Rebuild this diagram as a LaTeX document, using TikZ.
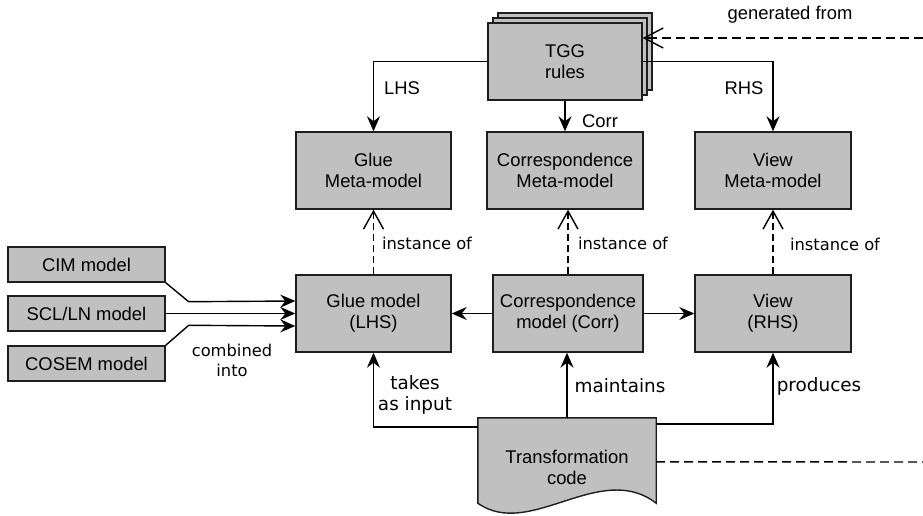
\documentclass[tikz,border=0pt]{standalone}
\usepackage{fontspec}
\setmainfont{Liberation Sans}
\newfontfamily\dv{DejaVu Sans}
\usetikzlibrary{arrows.meta}
\definecolor{boxgray}{RGB}{192,192,192}
\definecolor{edgegray}{RGB}{30,30,30}
\begin{document}
\begin{tikzpicture}[x=1pt,y=-1pt,
  box/.style={draw=edgegray, fill=boxgray, line width=1.4pt, align=center, inner sep=0pt,
    font=\fontsize{18.4}{21}\selectfont},
  bigbox/.style={box, minimum width=155pt, minimum height=77pt},
  smallbox/.style={box, minimum width=157pt, minimum height=35pt},
  lbl/.style={font=\fontsize{18.4}{21}\selectfont, inner sep=0pt},
  dvl/.style={font=\dv\fontsize{16.3}{20}\selectfont, inner sep=0pt, align=center},
  dvb/.style={font=\dv\fontsize{18.4}{21}\selectfont, inner sep=0pt, align=center},
  arr/.style={line width=1.4pt, -{Stealth[length=15pt,width=13pt,inset=5pt]}},
  inst/.style={line width=1.3pt, dash pattern=on 7pt off 4pt, -{Straight Barb[length=18pt,width=20pt,line width=1.4pt]}},
  gen/.style={line width=1.4pt, dash pattern=on 9pt off 5pt}
]
\useasboundingbox (0,0) rectangle (923,516);

% TGG stack
\node[bigbox, minimum width=154pt] (tggc) at (575,51.5) {};
\node[bigbox, minimum width=154pt] (tggb) at (570,56.5) {};
\node[bigbox, minimum width=154pt] (tgg) at (565,61.5) {TGG\\rules};

% meta-models
\node[bigbox] (gluemeta) at (373.5,170.5) {Glue\\Meta-model};
\node[bigbox, minimum width=156pt] (corrmeta) at (565,170.5) {Correspondence\\Meta-model};
\node[bigbox, minimum width=156pt] (viewmeta) at (773,170.5) {View\\Meta-model};

% models
\node[bigbox] (glue) at (373.5,313.5) {Glue model\\(LHS)};
\node[bigbox, minimum width=150pt] (corrm) at (568,313.5) {Correspondence\\model (Corr)};
\node[bigbox, minimum width=156pt] (view) at (773,313.5) {View\\(RHS)};

% input models
\node[smallbox] (cim) at (86.5,264.5) {CIM model};
\node[smallbox] (scl) at (86.5,313.5) {SCL/LN model};
\node[smallbox] (cosem) at (86.5,363.5) {COSEM model};

% transformation code document
\node[minimum width=178pt, minimum height=85pt, inner sep=0pt] (tc) at (567,460.5) {};
\draw[edgegray, fill=boxgray, line width=1.4pt]
  (tc.north west) -- (tc.north east) -- (tc.south east)
  .. controls (600,460) and (530,540) .. (tc.south west) -- cycle;
\node[lbl, align=center] (tct) at (567,467) {Transformation\\code};

% connectors from TGG rules
\draw[arr] (tgg.west) -| (gluemeta.north);
\draw[arr] (tgg.south) -- (corrmeta.north);
\draw[arr] (tgg.east) -| (viewmeta.north);
\node[lbl] (lhs) at (402,88) {LHS};
\node[lbl] (corrl) at (600,121) {Corr};
\node[lbl] (rhs) at (744,88) {RHS};

% generated from
\coordinate (e1) at (923,38);
\draw[gen, -{Straight Barb[length=19pt,width=20pt,line width=1.4pt]}] (e1) -- (tgg.east |- e1);
\node[lbl] (genl) at (790,15) {generated from};

% instance of
\draw[inst] (glue.north) -- (gluemeta.south);
\draw[inst] (corrm.north) -- (corrm.north |- corrmeta.south);
\draw[inst] (view.north) -- (viewmeta.south);
\node[dvl] (i1) at (427,243) {instance of};
\node[dvl] (i2) at (623,243) {instance of};
\node[dvl] (i3) at (835,244) {instance of};

% correspondence to sides
\draw[arr] (corrm.west) -- (glue.east);
\draw[arr] (corrm.east) -- (view.west);

% inputs combined
\draw[arr] (cim.south east) -- ++(23,19) -- (glue.west |- 0,301);
\draw[arr] (scl.east) -- (glue.west |- scl.east);
\draw[arr] (cosem.north east) -- ++(23,-20) -- (glue.west |- 0,326);
\node[dvl] (comb) at (232,360) {combined\\into};

% transformation code connectors
\draw[arr] ([yshift=-9pt]tc.north west) -| (glue.south);
\draw[arr] (tc.north) -- (tc.north |- corrm.south);
\draw[arr] ([yshift=-6pt]tc.north east) -| (view.south);
\node[dvb] (takes) at (415,395) {takes\\as input};
\node[dvb] (maint) at (620,386) {maintains};
\node[dvb] (prod) at (819,386) {produces};

\coordinate (e2) at (923,462);
\draw[gen] ([yshift=-44pt]tc.north east) -- (e2);
\end{tikzpicture}
\end{document}
